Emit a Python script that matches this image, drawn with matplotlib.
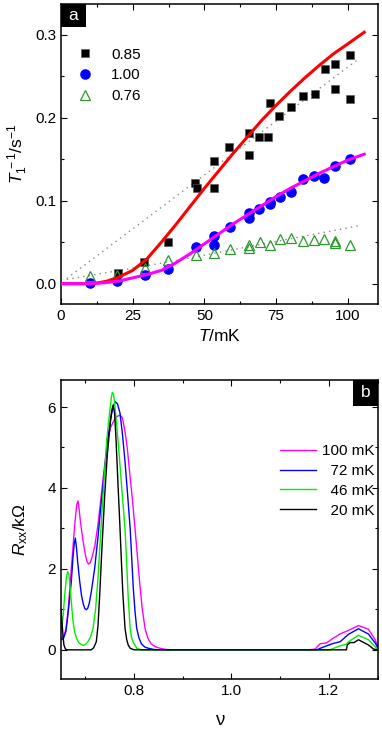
import matplotlib
matplotlib.use("Agg")
import matplotlib.pyplot as plt
from matplotlib.ticker import MultipleLocator, FixedLocator
from matplotlib.patches import Rectangle

plt.rcParams['font.family'] = ['Liberation Sans', 'DejaVu Sans']
plt.rcParams['mathtext.fontset'] = 'custom'
plt.rcParams['mathtext.rm'] = 'Liberation Sans'
plt.rcParams['mathtext.it'] = 'Liberation Sans:italic'
plt.rcParams['mathtext.bf'] = 'Liberation Sans:bold'

# ---------------- Panel a data ----------------
T_085 = [19.8, 28.9, 37.3, 46.7, 47.5, 53.3, 53.3, 58.7, 65.5, 65.5, 68.9, 72.1, 72.8,
         76.1, 80.2, 84.4, 88.4, 91.9, 95.6, 95.6, 100.6, 100.6]
r_085 = [0.0125, 0.0265, 0.050, 0.121, 0.1153, 0.148, 0.1153, 0.165, 0.182, 0.1547, 0.177,
         0.177, 0.2173, 0.2024, 0.2125, 0.226, 0.2286, 0.2587, 0.2643, 0.2346, 0.2759, 0.2222]

T_100 = [10.1, 19.6, 29.2, 37.3, 47.2, 53.3, 53.3, 58.8, 65.5, 65.5, 68.9, 72.8, 72.8,
         76.3, 80.2, 84.4, 88.3, 91.8, 95.6, 100.6]
r_100 = [0.001, 0.003, 0.010, 0.018, 0.0446, 0.057, 0.0466, 0.0687, 0.085, 0.079, 0.0896,
         0.099, 0.096, 0.105, 0.110, 0.126, 0.130, 0.127, 0.142, 0.150]

T_076 = [10.1, 19.6, 29.2, 37.3, 47.2, 53.3, 58.8, 65.5, 65.5, 69.2, 72.8, 76.3, 80.2,
         84.4, 88.3, 91.8, 95.6, 95.6, 100.6]
r_076 = [0.009, 0.010, 0.0185, 0.029, 0.034, 0.037, 0.042, 0.0466, 0.0426, 0.050, 0.0466,
         0.054, 0.0554, 0.051, 0.0526, 0.054, 0.051, 0.0486, 0.047]

# fit curves
T_fit_red = [0, 10, 13, 16, 20, 25, 30, 35, 40, 45, 50, 55, 60, 65, 70, 75, 80, 85, 90, 95, 100, 105.7]
r_fit_red = [0, 0, 0.001, 0.003, 0.0077, 0.016, 0.030, 0.050, 0.071, 0.093, 0.115, 0.136,
             0.157, 0.177, 0.197, 0.215, 0.232, 0.248, 0.263, 0.277, 0.289, 0.303]
T_fit_mag = [0, 10, 15, 20, 25, 30, 35, 40, 45, 50, 55, 60, 65, 70, 75, 80, 85, 90, 95, 100, 105.7]
r_fit_mag = [0, 0, 0.001, 0.003, 0.007, 0.011, 0.016, 0.025, 0.036, 0.048, 0.060, 0.072,
             0.083, 0.094, 0.105, 0.115, 0.124, 0.133, 0.141, 0.149, 0.156]
T_dot_up = [2, 104]
r_dot_up = [0.0062, 0.2714]
T_dot_lo = [2, 38, 104]
r_dot_lo = [0.005, 0.0265, 0.0699]

labels_a = ['0.85', '1.00', '0.76']

# ---------------- Panel b data ----------------
nu_100 = [0.650, 0.655, 0.660, 0.6644, 0.668, 0.6712, 0.675, 0.679, 0.6825, 0.685, 0.6875,
          0.690, 0.6952, 0.700, 0.7035, 0.7065, 0.710, 0.714, 0.7192, 0.726, 0.7328, 0.740,
          0.7466, 0.752, 0.758, 0.764, 0.771, 0.776, 0.7815, 0.786, 0.790, 0.796, 0.802,
          0.807, 0.812, 0.817, 0.8226, 0.828, 0.835, 0.843, 0.853, 0.865, 0.875, 1.00,
          1.160, 1.172, 1.182, 1.195, 1.2095, 1.2233, 1.2404, 1.2609, 1.2814, 1.2952, 1.302]
R_100 = [0.30, 0.33, 0.5, 0.95, 1.5, 2.02, 2.6, 3.2, 3.6, 3.68, 3.45, 3.15, 2.7, 2.35,
         2.18, 2.12, 2.15, 2.3, 2.55, 3.1, 3.83, 4.6, 5.23, 5.50, 5.65, 5.76, 5.80, 5.74,
         5.39, 5.0, 4.5, 3.8, 3.0, 2.3, 1.6, 1.0, 0.53, 0.3, 0.15, 0.08, 0.04, 0.01, 0.0,
         0.0, 0.0, 0.02, 0.15, 0.17, 0.29, 0.395, 0.48, 0.60, 0.51, 0.25, 0.03]

nu_72 = [0.650, 0.655, 0.660, 0.664, 0.668, 0.6712, 0.6747, 0.677, 0.6794, 0.682, 0.684,
         0.6884, 0.692, 0.696, 0.699, 0.702, 0.705, 0.708, 0.7123, 0.7192, 0.726, 0.7328,
         0.740, 0.7466, 0.752, 0.757, 0.7616, 0.766, 0.7712, 0.776, 0.7815, 0.787, 0.792,
         0.7955, 0.7986, 0.802, 0.8055, 0.810, 0.815, 0.822, 0.829, 0.840, 0.850, 1.00,
         1.175, 1.189, 1.2095, 1.2233, 1.2404, 1.2609, 1.2814, 1.2952, 1.302]
R_72 = [0.25, 0.28, 0.45, 0.85, 1.3, 1.69, 2.3, 2.6, 2.76, 2.5, 2.2, 1.69, 1.35, 1.12,
        1.02, 0.99, 1.03, 1.15, 1.44, 2.02, 2.8, 3.66, 4.5, 5.23, 5.72, 6.0, 6.13, 6.08,
        5.85, 5.35, 4.65, 3.8, 3.0, 2.2, 1.5, 0.95, 0.53, 0.3, 0.15, 0.07, 0.04, 0.01, 0.0,
        0.0, 0.0, 0.07, 0.16, 0.20, 0.385, 0.52, 0.39, 0.17, 0.02]

nu_46 = [0.650, 0.654, 0.658, 0.661, 0.6635, 0.666, 0.668, 0.671, 0.6747, 0.678, 0.682,
         0.687, 0.6952, 0.700, 0.7055, 0.711, 0.7158, 0.721, 0.726, 0.731, 0.7363, 0.740,
         0.744, 0.750, 0.7535, 0.7555, 0.758, 0.760, 0.764, 0.769, 0.7747, 0.7815, 0.785,
         0.788, 0.792, 0.795, 0.7986, 0.8055, 0.815, 1.00, 1.202, 1.2233, 1.236, 1.2404,
         1.2609, 1.2814, 1.2952, 1.302]
R_46 = [0.45, 0.8, 1.4, 1.78, 1.93, 1.88, 1.65, 1.2, 0.70, 0.45, 0.28, 0.17, 0.11, 0.13,
        0.2, 0.33, 0.53, 1.0, 1.77, 2.8, 3.83, 4.5, 5.2, 5.88, 6.25, 6.36, 6.32, 6.1, 5.6,
        4.9, 4.0, 3.0, 2.1, 1.3, 0.53, 0.3, 0.18, 0.04, 0.0, 0.0, 0.0, 0.10, 0.14, 0.20,
        0.36, 0.25, 0.08, 0.0]

nu_20 = [0.650, 0.652, 0.654, 0.656, 0.659, 0.662, 0.712, 0.717, 0.7225, 0.726, 0.7295,
         0.734, 0.7398, 0.745, 0.750, 0.754, 0.757, 0.760, 0.763, 0.767, 0.7712, 0.774,
         0.777, 0.7815, 0.785, 0.788, 0.792, 0.800, 1.00, 1.236, 1.238, 1.2438, 1.252,
         1.2609, 1.2814, 1.2918, 1.300]
R_20 = [1.0, 0.7, 0.35, 0.12, 0.02, 0.0, 0.0, 0.05, 0.2, 0.6, 1.36, 2.5, 3.83, 4.8, 5.47,
        5.9, 6.05, 5.85, 5.2, 4.1, 3.0, 2.2, 1.4, 0.53, 0.25, 0.12, 0.04, 0.0, 0.0, 0.0,
        0.12, 0.18, 0.18, 0.25, 0.12, 0.02, 0.0]

labels_b = ['100 mK', '\u200772 mK', '\u200746 mK', '\u200720 mK']

# ---------------- Figure ----------------
fig = plt.figure(figsize=(3.82, 7.33), dpi=100)
ax1 = fig.add_axes([0.1597, 0.5853, 0.8298, 0.4092])
ax2 = fig.add_axes([0.1597, 0.0737, 0.8298, 0.408])

# panel a
ax1.plot(T_dot_up, r_dot_up, linestyle=(0, (1, 3)), color='#888888', lw=1.0, zorder=1)
ax1.plot(T_dot_lo, r_dot_lo, linestyle=(0, (1, 3)), color='#888888', lw=1.0, zorder=1)
ax1.plot(T_085, r_085, 's', color='black', ms=6.4, mec='#555555', mew=0.4, zorder=3, label=labels_a[0])
ax1.plot(T_100, r_100, 'o', color='#0000ff', ms=6.6, mec='#0000ff', zorder=3, label=labels_a[1])
ax1.plot(T_076, r_076, '^', mfc='none', mec='#2e962e', ms=7.2, mew=0.9, zorder=3, label=labels_a[2])
ax1.plot(T_fit_red, r_fit_red, '-', color='#ff0000', lw=2.2, zorder=4)
ax1.plot(T_fit_mag, r_fit_mag, '-', color='#ff00ff', lw=2.2, zorder=4)

ax1.set_xlim(0, 110.5)
ax1.set_ylim(-0.0245, 0.337)
ax1.xaxis.set_major_locator(FixedLocator([0, 25, 50, 75, 100]))
ax1.xaxis.set_minor_locator(MultipleLocator(12.5))
ax1.yaxis.set_major_locator(FixedLocator([0.0, 0.1, 0.2, 0.3]))
ax1.yaxis.set_minor_locator(MultipleLocator(0.05))
ax1.set_yticklabels(['0.0', '0.1', '0.2', '0.3'])
ax1.set_xlabel('$T$/mK', fontsize=12.5, labelpad=4)
ax1.set_ylabel('$T_1^{\\,-1}$/s$^{-1}$', fontsize=12.5)
ax1.yaxis.set_label_coords(-0.098, 0.5)
leg1 = ax1.legend(loc='upper left', bbox_to_anchor=(0.052, 0.855), frameon=False,
                  fontsize=11, handlelength=1.0, handletextpad=1.2, labelspacing=0.45,
                  borderaxespad=0, borderpad=0)
ax1.add_patch(Rectangle((0, 0.923), 0.079, 0.077, transform=ax1.transAxes,
                        facecolor='black', edgecolor='none', zorder=5))
ax1.text(0.0395, 0.962, 'a', transform=ax1.transAxes, color='white', fontsize=12.5,
         ha='center', va='center', zorder=6)

# panel b
ax2.plot(nu_100, R_100, '-', color='#ff00ff', lw=1.0, label=labels_b[0])
ax2.plot(nu_72, R_72, '-', color='#0000ff', lw=1.0, label=labels_b[1])
ax2.plot(nu_46, R_46, '-', color='#00ee00', lw=1.0, label=labels_b[2])
ax2.plot(nu_20, R_20, '-', color='black', lw=1.0, label=labels_b[3])
ax2.set_xlim(0.65, 1.301)
ax2.set_ylim(-0.72, 6.67)
ax2.xaxis.set_major_locator(FixedLocator([0.8, 1.0, 1.2]))
ax2.xaxis.set_minor_locator(MultipleLocator(0.1))
ax2.yaxis.set_major_locator(FixedLocator([0, 2, 4, 6]))
ax2.yaxis.set_minor_locator(MultipleLocator(1))
ax2.set_xticklabels(['0.8', '1.0', '1.2'])
ax2.set_xlabel('ν', fontsize=13.5, labelpad=10)
ax2.set_ylabel('$R_{\\rm xx}$/kΩ', fontsize=12.5)
ax2.yaxis.set_label_coords(-0.098, 0.5)
leg2 = ax2.legend(loc='upper right', bbox_to_anchor=(0.99, 0.785), frameon=False,
                  fontsize=11, handlelength=2.4, handletextpad=0.4, labelspacing=0.38,
                  borderaxespad=0, borderpad=0)
ax2.add_patch(Rectangle((0.92, 0.913), 0.08, 0.087, transform=ax2.transAxes,
                        facecolor='black', edgecolor='none', zorder=5))
ax2.text(0.96, 0.957, 'b', transform=ax2.transAxes, color='white', fontsize=12.5,
         ha='center', va='center', zorder=6)

for ax in (ax1, ax2):
    ax.tick_params(which='both', direction='in', top=True, right=True, labelsize=11)
    ax.tick_params(which='major', length=4, width=0.8)
    ax.tick_params(which='minor', length=2.5, width=0.8)
    for s in ax.spines.values():
        s.set_linewidth(1.1)

fig.savefig('out.png', dpi=100)
